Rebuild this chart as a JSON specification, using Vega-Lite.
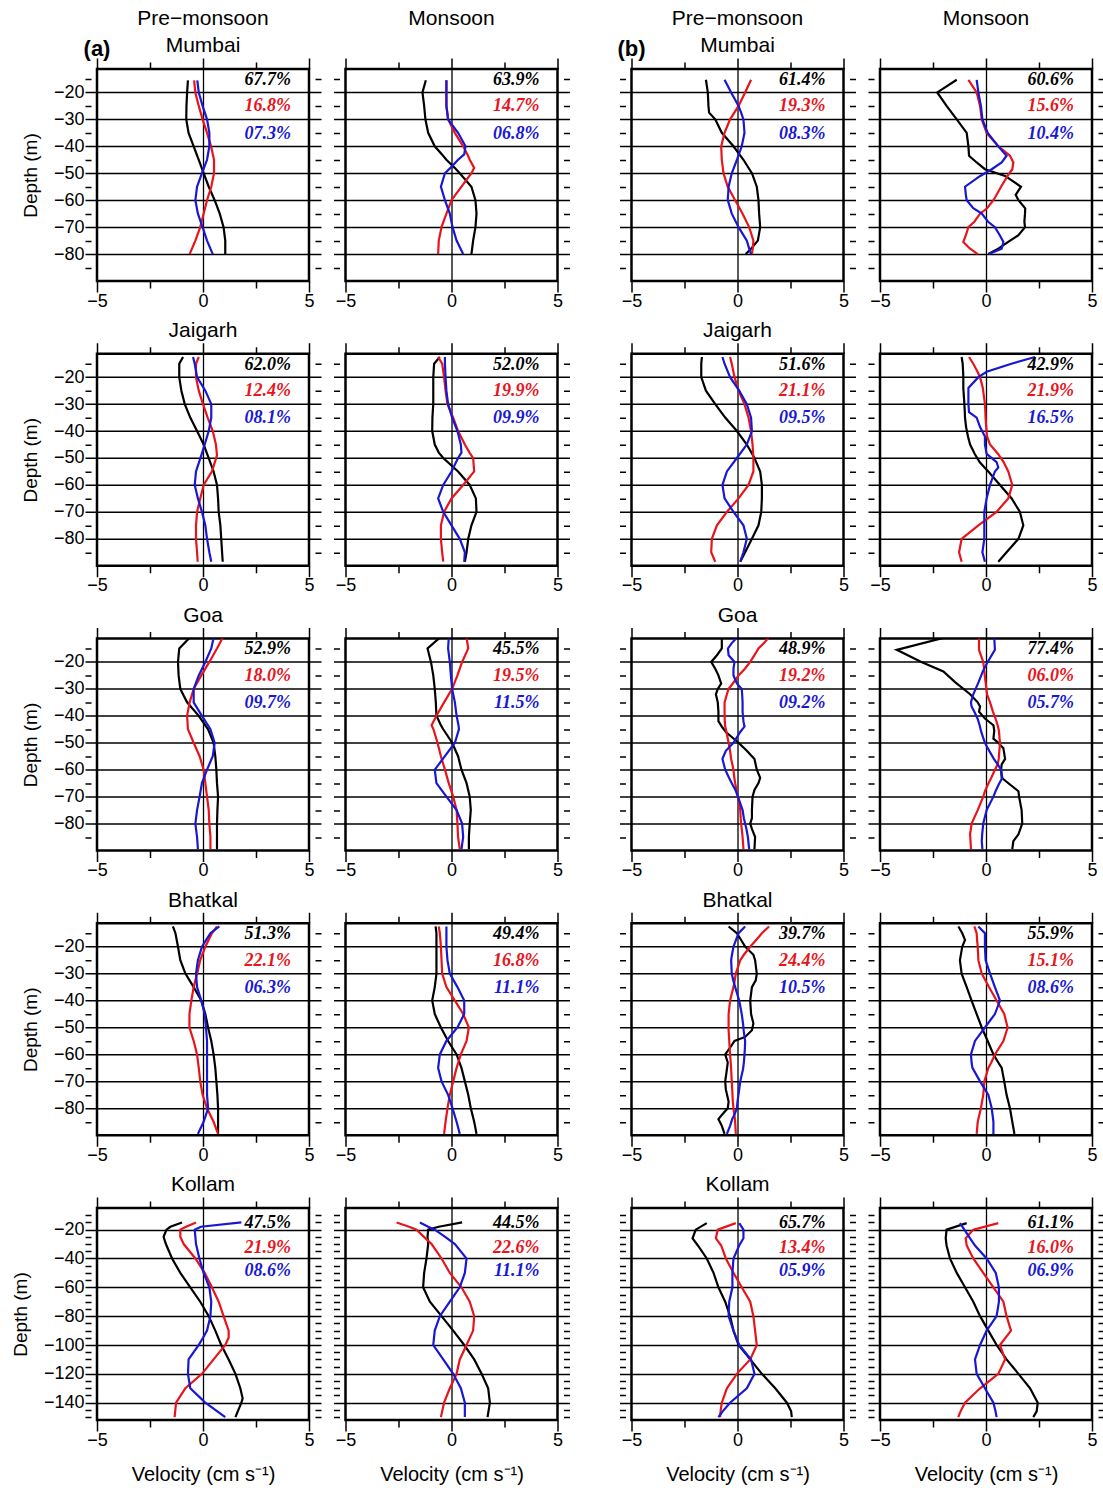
{
"$schema":"https://vega.github.io/schema/vega-lite/v6.json",
"padding":{"left":10,"top":6,"right":5,"bottom":5},
"config":{
"view":{"stroke":"#000","strokeWidth":2.5},
"range":{"category":["#000000","#e8141c","#1818d4"]},
"legend":{"disable":true},
"line":{"strokeWidth":2.2},
"text":{"align":"right","baseline":"middle","font":"Liberation Serif","fontSize":18,"fontStyle":"italic","fontWeight":"bold"},
"title":{"font":"Liberation Sans","fontSize":21,"fontWeight":"normal","color":"#000","frame":"group","offset":1},
"axis":{"domain":false,"grid":false,"tickColor":"#000","tickWidth":1.5,"tickSize":12,"gridColor":"#000","gridWidth":1.3,"labelFont":"Liberation Sans","labelFontSize":18,"labelColor":"#000","labelPadding":1,"labelOverlap":false,"titleFont":"Liberation Sans","titleFontSize":19,"titleFontWeight":"normal","titleColor":"#000","titlePadding":13},
"axisBottom":{"labelExpr":"datum.value%5==0?datum.label:''","labelFlush":false,"labelPadding":0,"titlePadding":15,"titleFontSize":20},
"axisTop":{"labels":false},
"axisLeft":{"labelExpr":"datum.value%10==0?datum.label:''"},
"axisRight":{"labels":false}
},
"datasets":{
"pct":[
{"p":11,"a":"67.7%","b":"16.8%","c":"07.3%"},{"p":12,"a":"63.9%","b":"14.7%","c":"06.8%"},{"p":13,"a":"61.4%","b":"19.3%","c":"08.3%"},{"p":14,"a":"60.6%","b":"15.6%","c":"10.4%"},
{"p":21,"a":"62.0%","b":"12.4%","c":"08.1%"},{"p":22,"a":"52.0%","b":"19.9%","c":"09.9%"},{"p":23,"a":"51.6%","b":"21.1%","c":"09.5%"},{"p":24,"a":"42.9%","b":"21.9%","c":"16.5%"},
{"p":31,"a":"52.9%","b":"18.0%","c":"09.7%"},{"p":32,"a":"45.5%","b":"19.5%","c":"11.5%"},{"p":33,"a":"48.9%","b":"19.2%","c":"09.2%"},{"p":34,"a":"77.4%","b":"06.0%","c":"05.7%"},
{"p":41,"a":"51.3%","b":"22.1%","c":"06.3%"},{"p":42,"a":"49.4%","b":"16.8%","c":"11.1%"},{"p":43,"a":"39.7%","b":"24.4%","c":"10.5%"},{"p":44,"a":"55.9%","b":"15.1%","c":"08.6%"},
{"p":51,"a":"47.5%","b":"21.9%","c":"08.6%"},{"p":52,"a":"44.5%","b":"22.6%","c":"11.1%"},{"p":53,"a":"65.7%","b":"13.4%","c":"05.9%"},{"p":54,"a":"61.1%","b":"16.0%","c":"06.9%"}
],
"prof":[
{"p":11,"d":-15.5,"a":-0.71,"b":-0.42,"c":-0.27},{"p":11,"d":-20,"a":-0.75,"b":-0.36,"c":-0.2},{"p":11,"d":-25,"a":-0.78,"b":-0.2,"c":-0.02},{"p":11,"d":-30,"a":-0.79,"b":-0.02,"c":0.19},{"p":11,"d":-35,"a":-0.68,"b":0.19,"c":0.3},{"p":11,"d":-40,"a":-0.44,"b":0.38,"c":0.3},{"p":11,"d":-45,"a":-0.2,"b":0.52,"c":0.19},{"p":11,"d":-50,"a":0.03,"b":0.52,"c":-0.05},{"p":11,"d":-55,"a":0.27,"b":0.39,"c":-0.28},{"p":11,"d":-60,"a":0.55,"b":0.19,"c":-0.36},{"p":11,"d":-65,"a":0.79,"b":0.03,"c":-0.24},{"p":11,"d":-70,"a":0.97,"b":-0.13,"c":-0.02},{"p":11,"d":-75,"a":1.05,"b":-0.36,"c":0.19},{"p":11,"d":-80,"a":1.05,"b":-0.63,"c":0.46},
{"p":12,"d":-15.5,"a":-1.21,"b":-0.24,"c":-0.24},{"p":12,"d":-20,"a":-1.37,"b":-0.24,"c":-0.24},{"p":12,"d":-25,"a":-1.29,"b":-0.24,"c":-0.24},{"p":12,"d":-30,"a":-1.23,"b":-0.16,"c":-0.16},{"p":12,"d":-35,"a":-1.1,"b":0.16,"c":0.31},{"p":12,"d":-40,"a":-0.79,"b":0.55,"c":0.66},{"p":12,"d":-43,"a":-0.45,"b":0.75,"c":0.6},{"p":12,"d":-45,"a":-0.24,"b":0.86,"c":0.31},{"p":12,"d":-48,"a":0.15,"b":1.07,"c":-0.05},{"p":12,"d":-50,"a":0.39,"b":0.94,"c":-0.31},{"p":12,"d":-55,"a":0.94,"b":0.47,"c":-0.5},{"p":12,"d":-60,"a":1.13,"b":0,"c":-0.31},{"p":12,"d":-65,"a":1.18,"b":-0.24,"c":-0.08},{"p":12,"d":-70,"a":1.13,"b":-0.47,"c":0.05},{"p":12,"d":-75,"a":1.02,"b":-0.6,"c":0.24},{"p":12,"d":-80,"a":0.94,"b":-0.63,"c":0.55},
{"p":13,"d":-15.3,"a":-1.49,"b":0.64,"c":-0.61},{"p":13,"d":-20,"a":-1.4,"b":0.36,"c":-0.3},{"p":13,"d":-25,"a":-1.37,"b":0.05,"c":0.05},{"p":13,"d":-27.5,"a":-1.34,"b":-0.15,"c":0.17},{"p":13,"d":-30,"a":-1.05,"b":-0.35,"c":0.28},{"p":13,"d":-35,"a":-0.74,"b":-0.61,"c":0.33},{"p":13,"d":-40,"a":-0.19,"b":-0.77,"c":0.2},{"p":13,"d":-45,"a":0.28,"b":-0.74,"c":-0.03},{"p":13,"d":-50,"a":0.68,"b":-0.66,"c":-0.27},{"p":13,"d":-55,"a":0.91,"b":-0.46,"c":-0.42},{"p":13,"d":-60,"a":0.99,"b":-0.11,"c":-0.46},{"p":13,"d":-65,"a":1.02,"b":0.24,"c":-0.27},{"p":13,"d":-70,"a":1.07,"b":0.55,"c":0.05},{"p":13,"d":-75,"a":0.96,"b":0.75,"c":0.44},{"p":13,"d":-78,"a":0.64,"b":0.72,"c":0.55},{"p":13,"d":-80,"a":0.39,"b":0.68,"c":0.64},
{"p":14,"d":-15.3,"a":-1.38,"b":-0.83,"c":-0.44},{"p":14,"d":-20,"a":-2.3,"b":-0.44,"c":-0.36},{"p":14,"d":-25,"a":-1.86,"b":-0.28,"c":-0.24},{"p":14,"d":-30,"a":-1.38,"b":-0.2,"c":-0.17},{"p":14,"d":-35,"a":-0.91,"b":0.03,"c":0.08},{"p":14,"d":-40,"a":-0.83,"b":0.58,"c":0.58},{"p":14,"d":-43.5,"a":-0.8,"b":1.13,"c":0.97},{"p":14,"d":-46,"a":-0.44,"b":1.29,"c":0.74},{"p":14,"d":-48.5,"a":-0.05,"b":1.24,"c":0.27},{"p":14,"d":-51,"a":0.9,"b":1.02,"c":-0.27},{"p":14,"d":-55,"a":1.65,"b":0.71,"c":-0.99},{"p":14,"d":-58,"a":1.4,"b":0.5,"c":-0.95},{"p":14,"d":-60,"a":1.53,"b":0.35,"c":-0.91},{"p":14,"d":-63,"a":1.85,"b":0.05,"c":-0.6},{"p":14,"d":-65,"a":1.84,"b":-0.28,"c":-0.2},{"p":14,"d":-68,"a":1.81,"b":-0.55,"c":0.1},{"p":14,"d":-70,"a":1.84,"b":-0.83,"c":0.42},{"p":14,"d":-73,"a":1.53,"b":-0.95,"c":0.65},{"p":14,"d":-75.5,"a":1.05,"b":-1.07,"c":0.82},{"p":14,"d":-78,"a":0.58,"b":-0.75,"c":0.74},{"p":14,"d":-80,"a":0.11,"b":-0.39,"c":0.14},
{"p":21,"d":-12.5,"a":-0.94,"b":-0.2,"c":-0.47},{"p":21,"d":-15,"a":-1.12,"b":-0.33,"c":-0.39},{"p":21,"d":-20,"a":-1.12,"b":-0.33,"c":-0.28},{"p":21,"d":-25,"a":-1.02,"b":-0.2,"c":0.11},{"p":21,"d":-30,"a":-0.86,"b":0,"c":0.39},{"p":21,"d":-35,"a":-0.6,"b":0.22,"c":0.39},{"p":21,"d":-40,"a":-0.28,"b":0.46,"c":0.27},{"p":21,"d":-45,"a":0.03,"b":0.61,"c":0.08},{"p":21,"d":-49,"a":0.22,"b":0.66,"c":-0.08},{"p":21,"d":-55,"a":0.5,"b":0.42,"c":-0.33},{"p":21,"d":-60,"a":0.66,"b":0.03,"c":-0.39},{"p":21,"d":-65,"a":0.71,"b":-0.13,"c":-0.24},{"p":21,"d":-70,"a":0.74,"b":-0.28,"c":-0.05},{"p":21,"d":-75,"a":0.82,"b":-0.33,"c":0.11},{"p":21,"d":-80,"a":0.86,"b":-0.33,"c":0.19},{"p":21,"d":-85,"a":0.9,"b":-0.28,"c":0.3},{"p":21,"d":-88.5,"a":0.93,"b":-0.25,"c":0.39},
{"p":22,"d":-12.5,"a":-0.55,"b":-0.63,"c":-0.31},{"p":22,"d":-15,"a":-0.82,"b":-0.44,"c":-0.31},{"p":22,"d":-20,"a":-0.86,"b":-0.35,"c":-0.28},{"p":22,"d":-25,"a":-0.86,"b":-0.28,"c":-0.24},{"p":22,"d":-30,"a":-0.86,"b":-0.19,"c":-0.16},{"p":22,"d":-35,"a":-0.9,"b":0.08,"c":0.03},{"p":22,"d":-40,"a":-0.91,"b":0.31,"c":0.28},{"p":22,"d":-45,"a":-0.79,"b":0.63,"c":0.44},{"p":22,"d":-48,"a":-0.6,"b":0.85,"c":0.47},{"p":22,"d":-50,"a":-0.39,"b":1.02,"c":0.31},{"p":22,"d":-55,"a":0.31,"b":1.07,"c":0},{"p":22,"d":-60,"a":0.86,"b":0.55,"c":-0.39},{"p":22,"d":-65,"a":1.15,"b":0,"c":-0.63},{"p":22,"d":-70,"a":1.18,"b":-0.35,"c":-0.39},{"p":22,"d":-75,"a":0.94,"b":-0.5,"c":0},{"p":22,"d":-80,"a":0.79,"b":-0.5,"c":0.39},{"p":22,"d":-85,"a":0.71,"b":-0.44,"c":0.63},{"p":22,"d":-88.5,"a":0.63,"b":-0.39,"c":0.6},
{"p":23,"d":-12.5,"a":-1.68,"b":-0.35,"c":-0.71},{"p":23,"d":-15,"a":-1.71,"b":-0.27,"c":-0.61},{"p":23,"d":-20,"a":-1.71,"b":-0.14,"c":-0.35},{"p":23,"d":-25,"a":-1.49,"b":0.05,"c":0.08},{"p":23,"d":-30,"a":-1.05,"b":0.33,"c":0.44},{"p":23,"d":-35,"a":-0.58,"b":0.52,"c":0.64},{"p":23,"d":-40,"a":-0.03,"b":0.64,"c":0.68},{"p":23,"d":-45,"a":0.44,"b":0.71,"c":0.44},{"p":23,"d":-50,"a":0.8,"b":0.75,"c":-0.03},{"p":23,"d":-55,"a":1.07,"b":0.75,"c":-0.5},{"p":23,"d":-60,"a":1.15,"b":0.52,"c":-0.71},{"p":23,"d":-65,"a":1.15,"b":0.05,"c":-0.61},{"p":23,"d":-70,"a":1.12,"b":-0.5,"c":-0.19},{"p":23,"d":-75,"a":0.99,"b":-0.97,"c":0.28},{"p":23,"d":-80,"a":0.68,"b":-1.21,"c":0.44},{"p":23,"d":-85,"a":0.36,"b":-1.24,"c":0.28},{"p":23,"d":-88.5,"a":0.13,"b":-1.05,"c":0.13},
{"p":24,"d":-12.5,"a":-1.15,"b":-0.8,"c":2.31},{"p":24,"d":-15,"a":-1.1,"b":-0.6,"c":1.2},{"p":24,"d":-18,"a":-1.08,"b":-0.4,"c":0.03},{"p":24,"d":-20,"a":-1.07,"b":-0.28,"c":-0.36},{"p":24,"d":-24,"a":-1.07,"b":-0.15,"c":-0.83},{"p":24,"d":-30,"a":-1.02,"b":-0.05,"c":-0.83},{"p":24,"d":-33,"a":-1,"b":-0.03,"c":-0.8},{"p":24,"d":-35,"a":-0.99,"b":-0.02,"c":-0.44},{"p":24,"d":-38.5,"a":-0.94,"b":0.01,"c":-0.28},{"p":24,"d":-42,"a":-0.85,"b":0.05,"c":-0.05},{"p":24,"d":-45,"a":-0.75,"b":0.19,"c":-0.05},{"p":24,"d":-48.5,"a":-0.53,"b":0.57,"c":0.03},{"p":24,"d":-51.5,"a":-0.3,"b":0.83,"c":0.5},{"p":24,"d":-53.5,"a":-0.07,"b":0.96,"c":0.58},{"p":24,"d":-55,"a":0.11,"b":1.05,"c":0.42},{"p":24,"d":-60,"a":0.66,"b":1.24,"c":0.19},{"p":24,"d":-65,"a":1.21,"b":1.05,"c":0.03},{"p":24,"d":-70,"a":1.6,"b":0.5,"c":-0.08},{"p":24,"d":-75,"a":1.76,"b":-0.36,"c":-0.08},{"p":24,"d":-80,"a":1.53,"b":-1.15,"c":-0.08},{"p":24,"d":-85,"a":0.97,"b":-1.27,"c":-0.17},{"p":24,"d":-88.5,"a":0.58,"b":-1.15,"c":-0.05},
{"p":31,"d":-11,"a":-0.63,"b":0.93,"c":0.5},{"p":31,"d":-15,"a":-1.12,"b":0.66,"c":0.39},{"p":31,"d":-20,"a":-1.18,"b":0.3,"c":0.11},{"p":31,"d":-25,"a":-1.15,"b":-0.08,"c":-0.2},{"p":31,"d":-30,"a":-1.07,"b":-0.44,"c":-0.44},{"p":31,"d":-35,"a":-0.75,"b":-0.63,"c":-0.44},{"p":31,"d":-40,"a":-0.2,"b":-0.75,"c":-0.05},{"p":31,"d":-45,"a":0.24,"b":-0.71,"c":0.35},{"p":31,"d":-50,"a":0.5,"b":-0.44,"c":0.55},{"p":31,"d":-55,"a":0.58,"b":-0.16,"c":0.46},{"p":31,"d":-60,"a":0.63,"b":0.03,"c":0.19},{"p":31,"d":-65,"a":0.66,"b":0.11,"c":-0.05},{"p":31,"d":-70,"a":0.71,"b":0.19,"c":-0.16},{"p":31,"d":-75,"a":0.68,"b":0.27,"c":-0.28},{"p":31,"d":-80,"a":0.66,"b":0.3,"c":-0.36},{"p":31,"d":-85,"a":0.66,"b":0.35,"c":-0.28},{"p":31,"d":-89.5,"a":0.66,"b":0.35,"c":-0.24},
{"p":32,"d":-11,"a":-0.55,"b":0.71,"c":-0.13},{"p":32,"d":-15,"a":-1.13,"b":0.79,"c":-0.16},{"p":32,"d":-20,"a":-0.97,"b":0.5,"c":-0.08},{"p":32,"d":-25,"a":-0.86,"b":0.28,"c":-0.03},{"p":32,"d":-30,"a":-0.79,"b":0.03,"c":0.03},{"p":32,"d":-35,"a":-0.74,"b":-0.35,"c":0.16},{"p":32,"d":-40,"a":-0.71,"b":-0.71,"c":0.24},{"p":32,"d":-43.5,"a":-0.5,"b":-0.94,"c":0.33},{"p":32,"d":-45,"a":-0.39,"b":-0.85,"c":0.35},{"p":32,"d":-50,"a":0.03,"b":-0.66,"c":0.16},{"p":32,"d":-55,"a":0.31,"b":-0.5,"c":-0.31},{"p":32,"d":-60,"a":0.47,"b":-0.31,"c":-0.79},{"p":32,"d":-65,"a":0.71,"b":-0.13,"c":-0.71},{"p":32,"d":-70,"a":0.86,"b":0.08,"c":-0.24},{"p":32,"d":-75,"a":0.91,"b":0.24,"c":0.24},{"p":32,"d":-80,"a":0.86,"b":0.28,"c":0.5},{"p":32,"d":-85,"a":0.82,"b":0.31,"c":0.55},{"p":32,"d":-89.5,"a":0.82,"b":0.39,"c":0.47},
{"p":33,"d":-11,"a":-0.74,"b":1.46,"c":-0.03},{"p":33,"d":-13,"a":-0.74,"b":1.25,"c":-0.27},{"p":33,"d":-15,"a":-0.74,"b":0.99,"c":-0.45},{"p":33,"d":-17.5,"a":-0.97,"b":0.8,"c":-0.42},{"p":33,"d":-20,"a":-1.24,"b":0.6,"c":-0.14},{"p":33,"d":-22.5,"a":-1.05,"b":0.35,"c":-0.19},{"p":33,"d":-25,"a":-0.9,"b":0.05,"c":-0.19},{"p":33,"d":-28,"a":-0.77,"b":-0.22,"c":-0.03},{"p":33,"d":-30,"a":-0.93,"b":-0.42,"c":0.2},{"p":33,"d":-32,"a":-1.02,"b":-0.5,"c":0.22},{"p":33,"d":-35,"a":-0.93,"b":-0.61,"c":0.24},{"p":33,"d":-38.5,"a":-0.9,"b":-0.61,"c":0.24},{"p":33,"d":-42,"a":-0.9,"b":-0.6,"c":0.28},{"p":33,"d":-44,"a":-0.74,"b":-0.58,"c":0.33},{"p":33,"d":-46,"a":-0.55,"b":-0.52,"c":0.13},{"p":33,"d":-50,"a":0.05,"b":-0.42,"c":-0.19},{"p":33,"d":-53,"a":0.44,"b":-0.35,"c":-0.55},{"p":33,"d":-56,"a":0.8,"b":-0.3,"c":-0.71},{"p":33,"d":-60,"a":0.91,"b":-0.19,"c":-0.58},{"p":33,"d":-63,"a":1.07,"b":-0.15,"c":-0.4},{"p":33,"d":-65,"a":0.99,"b":-0.11,"c":-0.27},{"p":33,"d":-67.5,"a":0.8,"b":-0.05,"c":-0.1},{"p":33,"d":-70,"a":0.71,"b":0.02,"c":0.02},{"p":33,"d":-75,"a":0.68,"b":0.13,"c":0.24},{"p":33,"d":-78,"a":0.68,"b":0.15,"c":0.3},{"p":33,"d":-80,"a":0.6,"b":0.17,"c":0.36},{"p":33,"d":-82,"a":0.68,"b":0.2,"c":0.42},{"p":33,"d":-85,"a":0.83,"b":0.24,"c":0.49},{"p":33,"d":-89.5,"a":0.8,"b":0.28,"c":0.55},
{"p":34,"d":-11,"a":-1.97,"b":-0.33,"c":0.39},{"p":34,"d":-15.5,"a":-4.21,"b":-0.33,"c":0.42},{"p":34,"d":-20,"a":-3.05,"b":-0.13,"c":0.08},{"p":34,"d":-23.5,"a":-2.01,"b":-0.08,"c":-0.15},{"p":34,"d":-27.5,"a":-1.46,"b":-0.02,"c":-0.35},{"p":34,"d":-32,"a":-0.75,"b":0.05,"c":-0.6},{"p":34,"d":-35,"a":-0.39,"b":0.19,"c":-0.71},{"p":34,"d":-36.5,"a":-0.28,"b":0.25,"c":-0.68},{"p":34,"d":-38.5,"a":-0.33,"b":0.33,"c":-0.55},{"p":34,"d":-41,"a":-0.05,"b":0.45,"c":-0.4},{"p":34,"d":-43.5,"a":0.35,"b":0.55,"c":-0.3},{"p":34,"d":-45.5,"a":0.39,"b":0.61,"c":-0.24},{"p":34,"d":-48.5,"a":0.35,"b":0.64,"c":-0.12},{"p":34,"d":-50,"a":0.58,"b":0.66,"c":-0.05},{"p":34,"d":-52,"a":0.82,"b":0.64,"c":0.08},{"p":34,"d":-56,"a":0.9,"b":0.6,"c":0.37},{"p":34,"d":-58,"a":0.74,"b":0.55,"c":0.55},{"p":34,"d":-60,"a":0.71,"b":0.42,"c":0.71},{"p":34,"d":-63,"a":0.74,"b":0.25,"c":0.77},{"p":34,"d":-65.5,"a":1.13,"b":0.09,"c":0.6},{"p":34,"d":-68,"a":1.53,"b":-0.05,"c":0.45},{"p":34,"d":-70,"a":1.56,"b":-0.13,"c":0.35},{"p":34,"d":-75,"a":1.68,"b":-0.39,"c":0.03},{"p":34,"d":-80,"a":1.71,"b":-0.68,"c":-0.13},{"p":34,"d":-84,"a":1.53,"b":-0.75,"c":-0.18},{"p":34,"d":-86.5,"a":1.29,"b":-0.73,"c":-0.2},{"p":34,"d":-89.5,"a":1.24,"b":-0.71,"c":-0.17},
{"p":41,"d":-12.5,"a":-1.42,"b":0.66,"c":0.77},{"p":41,"d":-15,"a":-1.3,"b":0.42,"c":0.35},{"p":41,"d":-20,"a":-1.18,"b":0.11,"c":-0.05},{"p":41,"d":-25,"a":-1.07,"b":-0.13,"c":-0.24},{"p":41,"d":-30,"a":-0.83,"b":-0.28,"c":-0.33},{"p":41,"d":-35,"a":-0.44,"b":-0.44,"c":-0.28},{"p":41,"d":-40,"a":-0.08,"b":-0.55,"c":-0.08},{"p":41,"d":-45,"a":0.11,"b":-0.64,"c":0.08},{"p":41,"d":-50,"a":0.24,"b":-0.64,"c":0.14},{"p":41,"d":-55,"a":0.39,"b":-0.44,"c":0.19},{"p":41,"d":-60,"a":0.5,"b":-0.28,"c":0.19},{"p":41,"d":-65,"a":0.58,"b":-0.2,"c":0.19},{"p":41,"d":-70,"a":0.63,"b":-0.13,"c":0.19},{"p":41,"d":-75,"a":0.68,"b":-0.02,"c":0.19},{"p":41,"d":-80,"a":0.71,"b":0.19,"c":0.24},{"p":41,"d":-85,"a":0.71,"b":0.5,"c":0.03},{"p":41,"d":-89.5,"a":0.71,"b":0.71,"c":-0.24},
{"p":42,"d":-12.5,"a":-0.75,"b":-0.6,"c":-0.24},{"p":42,"d":-15,"a":-0.71,"b":-0.55,"c":-0.24},{"p":42,"d":-20,"a":-0.71,"b":-0.5,"c":-0.24},{"p":42,"d":-25,"a":-0.71,"b":-0.47,"c":-0.19},{"p":42,"d":-30,"a":-0.71,"b":-0.44,"c":-0.08},{"p":42,"d":-35,"a":-0.79,"b":-0.24,"c":0.28},{"p":42,"d":-40,"a":-0.91,"b":0.16,"c":0.6},{"p":42,"d":-45,"a":-0.79,"b":0.55,"c":0.6},{"p":42,"d":-50,"a":-0.5,"b":0.82,"c":0.28},{"p":42,"d":-55,"a":-0.16,"b":0.71,"c":-0.24},{"p":42,"d":-60,"a":0.24,"b":0.44,"c":-0.55},{"p":42,"d":-65,"a":0.47,"b":0.24,"c":-0.63},{"p":42,"d":-70,"a":0.63,"b":0.08,"c":-0.47},{"p":42,"d":-75,"a":0.79,"b":-0.08,"c":-0.16},{"p":42,"d":-80,"a":0.91,"b":-0.19,"c":0.05},{"p":42,"d":-85,"a":1.07,"b":-0.28,"c":0.24},{"p":42,"d":-89.5,"a":1.18,"b":-0.35,"c":0.39},
{"p":43,"d":-12.5,"a":-0.42,"b":1.49,"c":0.36},{"p":43,"d":-15,"a":-0.03,"b":1.15,"c":0.05},{"p":43,"d":-17.5,"a":0.17,"b":0.88,"c":-0.07},{"p":43,"d":-20,"a":0.36,"b":0.6,"c":-0.19},{"p":43,"d":-23,"a":0.75,"b":0.3,"c":-0.26},{"p":43,"d":-25,"a":0.83,"b":0.13,"c":-0.3},{"p":43,"d":-30,"a":0.91,"b":-0.08,"c":-0.27},{"p":43,"d":-32.5,"a":0.86,"b":-0.13,"c":-0.2},{"p":43,"d":-35,"a":0.68,"b":-0.19,"c":-0.11},{"p":43,"d":-40,"a":0.6,"b":-0.35,"c":0.08},{"p":43,"d":-45,"a":0.64,"b":-0.42,"c":0.2},{"p":43,"d":-48.5,"a":0.75,"b":-0.42,"c":0.26},{"p":43,"d":-51,"a":0.68,"b":-0.42,"c":0.29},{"p":43,"d":-53.5,"a":0.36,"b":-0.4,"c":0.33},{"p":43,"d":-55,"a":-0.14,"b":-0.39,"c":0.36},{"p":43,"d":-57.5,"a":-0.35,"b":-0.37,"c":0.35},{"p":43,"d":-60,"a":-0.58,"b":-0.35,"c":0.33},{"p":43,"d":-63,"a":-0.46,"b":-0.32,"c":0.3},{"p":43,"d":-65.5,"a":-0.5,"b":-0.3,"c":0.26},{"p":43,"d":-70,"a":-0.58,"b":-0.27,"c":0.13},{"p":43,"d":-73,"a":-0.55,"b":-0.25,"c":0.08},{"p":43,"d":-77.5,"a":-0.42,"b":-0.22,"c":0},{"p":43,"d":-80,"a":-0.46,"b":-0.19,"c":-0.03},{"p":43,"d":-82.5,"a":-0.74,"b":-0.15,"c":-0.15},{"p":43,"d":-84,"a":-0.9,"b":-0.12,"c":-0.25},{"p":43,"d":-86.5,"a":-0.74,"b":-0.1,"c":-0.35},{"p":43,"d":-89.5,"a":-0.61,"b":-0.08,"c":-0.5},
{"p":44,"d":-12.5,"a":-1.3,"b":-0.55,"c":-0.36},{"p":44,"d":-15,"a":-1.12,"b":-0.44,"c":-0.05},{"p":44,"d":-17.5,"a":-0.99,"b":-0.42,"c":-0.05},{"p":44,"d":-20,"a":-1.12,"b":-0.39,"c":-0.05},{"p":44,"d":-25,"a":-1.23,"b":-0.36,"c":-0.02},{"p":44,"d":-30,"a":-1.15,"b":-0.2,"c":0.19},{"p":44,"d":-35,"a":-0.91,"b":0.14,"c":0.42},{"p":44,"d":-40,"a":-0.68,"b":0.5,"c":0.66},{"p":44,"d":-45,"a":-0.44,"b":0.86,"c":0.42},{"p":44,"d":-50,"a":-0.2,"b":1.02,"c":-0.05},{"p":44,"d":-55,"a":0.08,"b":0.82,"c":-0.52},{"p":44,"d":-60,"a":0.35,"b":0.42,"c":-0.71},{"p":44,"d":-63,"a":0.58,"b":0.25,"c":-0.68},{"p":44,"d":-65,"a":0.74,"b":0.11,"c":-0.64},{"p":44,"d":-70,"a":0.86,"b":-0.08,"c":-0.28},{"p":44,"d":-75,"a":0.97,"b":-0.13,"c":0.11},{"p":44,"d":-80,"a":1.13,"b":-0.24,"c":0.27},{"p":44,"d":-85,"a":1.24,"b":-0.39,"c":0.35},{"p":44,"d":-89.5,"a":1.34,"b":-0.44,"c":0.35},
{"p":51,"d":-15,"a":-0.99,"b":-0.33,"c":1.81},{"p":51,"d":-18,"a":-1.54,"b":-0.8,"c":-0.1},{"p":51,"d":-20,"a":-1.72,"b":-1.07,"c":-0.39},{"p":51,"d":-25,"a":-1.86,"b":-1.07,"c":-0.36},{"p":51,"d":-30,"a":-1.75,"b":-0.91,"c":-0.33},{"p":51,"d":-40,"a":-1.46,"b":-0.36,"c":-0.17},{"p":51,"d":-50,"a":-1.07,"b":0.08,"c":0.03},{"p":51,"d":-60,"a":-0.6,"b":0.42,"c":0.3},{"p":51,"d":-70,"a":-0.13,"b":0.74,"c":0.39},{"p":51,"d":-80,"a":0.27,"b":0.97,"c":0.35},{"p":51,"d":-90,"a":0.58,"b":1.21,"c":0.19},{"p":51,"d":-95,"a":0.72,"b":1.21,"c":0},{"p":51,"d":-100,"a":0.86,"b":1.05,"c":-0.2},{"p":51,"d":-110,"a":1.21,"b":0.5,"c":-0.68},{"p":51,"d":-120,"a":1.53,"b":-0.05,"c":-0.71},{"p":51,"d":-130,"a":1.76,"b":-0.83,"c":-0.6},{"p":51,"d":-137,"a":1.87,"b":-1.14,"c":-0.1},{"p":51,"d":-140,"a":1.81,"b":-1.27,"c":0.11},{"p":51,"d":-150,"a":1.53,"b":-1.34,"c":1.05},
{"p":52,"d":-15,"a":0.5,"b":-2.59,"c":-1.49},{"p":52,"d":-18,"a":-0.6,"b":-2.0,"c":-1.1},{"p":52,"d":-20,"a":-1.1,"b":-1.65,"c":-0.79},{"p":52,"d":-25,"a":-1.13,"b":-1.3,"c":-0.3},{"p":52,"d":-30,"a":-1.1,"b":-0.94,"c":0.16},{"p":52,"d":-40,"a":-1.18,"b":-0.47,"c":0.71},{"p":52,"d":-50,"a":-1.29,"b":-0.08,"c":0.63},{"p":52,"d":-60,"a":-1.34,"b":0.47,"c":0.39},{"p":52,"d":-70,"a":-1.02,"b":0.86,"c":-0.08},{"p":52,"d":-80,"a":-0.47,"b":1.07,"c":-0.55},{"p":52,"d":-90,"a":0.08,"b":1.02,"c":-0.79},{"p":52,"d":-100,"a":0.6,"b":0.71,"c":-0.86},{"p":52,"d":-110,"a":1.07,"b":0.39,"c":-0.39},{"p":52,"d":-120,"a":1.42,"b":0.24,"c":0.08},{"p":52,"d":-130,"a":1.73,"b":-0.08,"c":0.44},{"p":52,"d":-140,"a":1.81,"b":-0.35,"c":0.63},{"p":52,"d":-150,"a":1.7,"b":-0.5,"c":0.63},
{"p":53,"d":-15.5,"a":-1.45,"b":-0.08,"c":0.08},{"p":53,"d":-20,"a":-1.97,"b":-0.93,"c":0.28},{"p":53,"d":-26,"a":-2.12,"b":-1.02,"c":0.28},{"p":53,"d":-31,"a":-1.87,"b":-0.77,"c":0.08},{"p":53,"d":-40,"a":-1.45,"b":-0.55,"c":-0.19},{"p":53,"d":-50,"a":-1.13,"b":-0.19,"c":-0.24},{"p":53,"d":-60,"a":-0.9,"b":0.2,"c":-0.24},{"p":53,"d":-70,"a":-0.58,"b":0.6,"c":-0.39},{"p":53,"d":-80,"a":-0.35,"b":0.75,"c":-0.42},{"p":53,"d":-90,"a":-0.19,"b":0.83,"c":-0.19},{"p":53,"d":-100,"a":0.05,"b":0.91,"c":0.08},{"p":53,"d":-110,"a":0.6,"b":0.6,"c":0.64},{"p":53,"d":-120,"a":1.15,"b":-0.03,"c":0.8},{"p":53,"d":-130,"a":1.78,"b":-0.5,"c":0.44},{"p":53,"d":-140,"a":2.33,"b":-0.74,"c":-0.35},{"p":53,"d":-146,"a":2.53,"b":-0.8,"c":-0.7},{"p":53,"d":-150,"a":2.56,"b":-0.82,"c":-0.9},
{"p":54,"d":-15.5,"a":-0.91,"b":0.58,"c":-1.23},{"p":54,"d":-20,"a":-1.86,"b":-0.6,"c":-1.02},{"p":54,"d":-26,"a":-1.9,"b":-0.96,"c":-0.75},{"p":54,"d":-31,"a":-1.86,"b":-0.91,"c":-0.52},{"p":54,"d":-40,"a":-1.7,"b":-0.6,"c":0.03},{"p":54,"d":-50,"a":-1.38,"b":-0.13,"c":0.46},{"p":54,"d":-60,"a":-0.99,"b":0.35,"c":0.61},{"p":54,"d":-70,"a":-0.6,"b":0.82,"c":0.61},{"p":54,"d":-80,"a":-0.28,"b":0.97,"c":0.5},{"p":54,"d":-90,"a":0.11,"b":1.18,"c":0.03},{"p":54,"d":-100,"a":0.5,"b":0.66,"c":-0.28},{"p":54,"d":-110,"a":0.97,"b":0.9,"c":-0.52},{"p":54,"d":-120,"a":1.53,"b":0.58,"c":-0.44},{"p":54,"d":-130,"a":2.08,"b":-0.28,"c":-0.05},{"p":54,"d":-140,"a":2.44,"b":-0.99,"c":0.35},{"p":54,"d":-146,"a":2.39,"b":-1.2,"c":0.45},{"p":54,"d":-150,"a":2.23,"b":-1.31,"c":0.5}
]
},
"columns":5,
"spacing":{"row":72.75,"column":36.5},
"bounds":"flush",
"concat":[
  {"width":212,"height":212,"title":{"text":["Pre−monsoon","Mumbai"],"lineHeight":27,"offset":-18},"resolve":{"axis":{"x":"independent","y":"independent"}},"layer":[
   {"data":{"name":"prof"},"transform":[{"filter":"datum.p==11"},{"fold":["a","b","c"],"as":["s","v"]}],"mark":{"type":"line","clip":true},"encoding":{"x":{"field":"v","type":"quantitative","scale":{"domain":[-5,5],"nice":false},"axis":{"values":[-5,-2.5,0,2.5,5],"title":null,"grid":true,"gridOpacity":{"condition":{"test":"datum.value==0","value":1},"value":0},"tickSize":{"condition":{"test":"datum.value%5==0","value":11},"value":7}}},"y":{"field":"d","type":"quantitative","scale":{"domain":[-90,-11.3],"nice":false,"zero":false},"axis":{"values":[-15,-20,-25,-30,-35,-40,-45,-50,-55,-60,-65,-70,-75,-80,-85],"title":"Depth (m)","grid":true,"gridOpacity":{"condition":{"test":"datum.value%10==0","value":1},"value":0},"tickDash":{"condition":{"test":"datum.value%10==0","value":[20,0]},"value":[0,6,6,6]}}},"color":{"field":"s","type":"nominal"},"order":{"field":"d","type":"quantitative","sort":"descending"}}},
   {"data":{"name":"pct"},"transform":[{"filter":"datum.p==11"}],"mark":{"type":"text","fill":"#000000"},"encoding":{"x":{"datum":4.15,"axis":{"orient":"top","values":[-5,-2.5,0,2.5,5],"title":null,"tickSize":{"condition":{"test":"datum.value%5==0","value":11},"value":7}}},"y":{"datum":-15.3,"axis":{"orient":"right","values":[-15,-20,-25,-30,-35,-40,-45,-50,-55,-60,-65,-70,-75,-80,-85],"title":null,"tickDash":{"condition":{"test":"datum.value%10==0","value":[20,0]},"value":[0,6,6,6]}}},"text":{"field":"a"}}},
   {"data":{"name":"pct"},"transform":[{"filter":"datum.p==11"}],"mark":{"type":"text","fill":"#e8141c"},"encoding":{"x":{"datum":4.15,"axis":null},"y":{"datum":-25.2,"axis":null},"text":{"field":"b"}}},
   {"data":{"name":"pct"},"transform":[{"filter":"datum.p==11"}],"mark":{"type":"text","fill":"#1818d4"},"encoding":{"x":{"datum":4.15,"axis":null},"y":{"datum":-35.3,"axis":null},"text":{"field":"c"}}},
   {"data":{"name":"pct"},"transform":[{"filter":"datum.p==11"}],"mark":{"type":"text","align":"center","font":"Liberation Sans","fontStyle":"normal","fontSize":22,"fill":"#000000"},"encoding":{"x":{"datum":-5,"axis":null},"y":{"datum":-3.8,"axis":null},"text":{"value":"(a)"}}}
  ]},
  {"width":212,"height":212,"title":{"text":"Monsoon","offset":28},"resolve":{"axis":{"x":"independent","y":"independent"}},"layer":[
   {"data":{"name":"prof"},"transform":[{"filter":"datum.p==12"},{"fold":["a","b","c"],"as":["s","v"]}],"mark":{"type":"line","clip":true},"encoding":{"x":{"field":"v","type":"quantitative","scale":{"domain":[-5,5],"nice":false},"axis":{"values":[-5,-2.5,0,2.5,5],"title":null,"grid":true,"gridOpacity":{"condition":{"test":"datum.value==0","value":1},"value":0},"tickSize":{"condition":{"test":"datum.value%5==0","value":11},"value":7}}},"y":{"field":"d","type":"quantitative","scale":{"domain":[-90,-11.3],"nice":false,"zero":false},"axis":{"values":[-15,-20,-25,-30,-35,-40,-45,-50,-55,-60,-65,-70,-75,-80,-85],"labels":false,"title":null,"grid":true,"gridOpacity":{"condition":{"test":"datum.value%10==0","value":1},"value":0},"tickDash":{"condition":{"test":"datum.value%10==0","value":[20,0]},"value":[0,6,6,6]}}},"color":{"field":"s","type":"nominal"},"order":{"field":"d","type":"quantitative","sort":"descending"}}},
   {"data":{"name":"pct"},"transform":[{"filter":"datum.p==12"}],"mark":{"type":"text","fill":"#000000"},"encoding":{"x":{"datum":4.15,"axis":{"orient":"top","values":[-5,-2.5,0,2.5,5],"title":null,"tickSize":{"condition":{"test":"datum.value%5==0","value":11},"value":7}}},"y":{"datum":-15.3,"axis":{"orient":"right","values":[-15,-20,-25,-30,-35,-40,-45,-50,-55,-60,-65,-70,-75,-80,-85],"title":null,"tickDash":{"condition":{"test":"datum.value%10==0","value":[20,0]},"value":[0,6,6,6]}}},"text":{"field":"a"}}},
   {"data":{"name":"pct"},"transform":[{"filter":"datum.p==12"}],"mark":{"type":"text","fill":"#e8141c"},"encoding":{"x":{"datum":4.15,"axis":null},"y":{"datum":-25.2,"axis":null},"text":{"field":"b"}}},
   {"data":{"name":"pct"},"transform":[{"filter":"datum.p==12"}],"mark":{"type":"text","fill":"#1818d4"},"encoding":{"x":{"datum":4.15,"axis":null},"y":{"datum":-35.3,"axis":null},"text":{"field":"c"}}}
  ]},
  {"width":1,"height":212,"view":{"stroke":null},"data":{"name":"pct"},"transform":[{"filter":"datum.p==11"}],"mark":{"type":"text"},"encoding":{"text":{"value":""}}},
  {"width":212,"height":212,"title":{"text":["Pre−monsoon","Mumbai"],"lineHeight":27,"offset":-18},"resolve":{"axis":{"x":"independent","y":"independent"}},"layer":[
   {"data":{"name":"prof"},"transform":[{"filter":"datum.p==13"},{"fold":["a","b","c"],"as":["s","v"]}],"mark":{"type":"line","clip":true},"encoding":{"x":{"field":"v","type":"quantitative","scale":{"domain":[-5,5],"nice":false},"axis":{"values":[-5,-2.5,0,2.5,5],"title":null,"grid":true,"gridOpacity":{"condition":{"test":"datum.value==0","value":1},"value":0},"tickSize":{"condition":{"test":"datum.value%5==0","value":11},"value":7}}},"y":{"field":"d","type":"quantitative","scale":{"domain":[-90,-11.3],"nice":false,"zero":false},"axis":{"values":[-15,-20,-25,-30,-35,-40,-45,-50,-55,-60,-65,-70,-75,-80,-85],"labels":false,"title":null,"grid":true,"gridOpacity":{"condition":{"test":"datum.value%10==0","value":1},"value":0},"tickDash":{"condition":{"test":"datum.value%10==0","value":[20,0]},"value":[0,6,6,6]}}},"color":{"field":"s","type":"nominal"},"order":{"field":"d","type":"quantitative","sort":"descending"}}},
   {"data":{"name":"pct"},"transform":[{"filter":"datum.p==13"}],"mark":{"type":"text","fill":"#000000"},"encoding":{"x":{"datum":4.15,"axis":{"orient":"top","values":[-5,-2.5,0,2.5,5],"title":null,"tickSize":{"condition":{"test":"datum.value%5==0","value":11},"value":7}}},"y":{"datum":-15.3,"axis":{"orient":"right","values":[-15,-20,-25,-30,-35,-40,-45,-50,-55,-60,-65,-70,-75,-80,-85],"title":null,"tickDash":{"condition":{"test":"datum.value%10==0","value":[20,0]},"value":[0,6,6,6]}}},"text":{"field":"a"}}},
   {"data":{"name":"pct"},"transform":[{"filter":"datum.p==13"}],"mark":{"type":"text","fill":"#e8141c"},"encoding":{"x":{"datum":4.15,"axis":null},"y":{"datum":-25.2,"axis":null},"text":{"field":"b"}}},
   {"data":{"name":"pct"},"transform":[{"filter":"datum.p==13"}],"mark":{"type":"text","fill":"#1818d4"},"encoding":{"x":{"datum":4.15,"axis":null},"y":{"datum":-35.3,"axis":null},"text":{"field":"c"}}},
   {"data":{"name":"pct"},"transform":[{"filter":"datum.p==13"}],"mark":{"type":"text","align":"center","font":"Liberation Sans","fontStyle":"normal","fontSize":22,"fill":"#000000"},"encoding":{"x":{"datum":-5,"axis":null},"y":{"datum":-3.8,"axis":null},"text":{"value":"(b)"}}}
  ]},
  {"width":212,"height":212,"title":{"text":"Monsoon","offset":28},"resolve":{"axis":{"x":"independent","y":"independent"}},"layer":[
   {"data":{"name":"prof"},"transform":[{"filter":"datum.p==14"},{"fold":["a","b","c"],"as":["s","v"]}],"mark":{"type":"line","clip":true},"encoding":{"x":{"field":"v","type":"quantitative","scale":{"domain":[-5,5],"nice":false},"axis":{"values":[-5,-2.5,0,2.5,5],"title":null,"grid":true,"gridOpacity":{"condition":{"test":"datum.value==0","value":1},"value":0},"tickSize":{"condition":{"test":"datum.value%5==0","value":11},"value":7}}},"y":{"field":"d","type":"quantitative","scale":{"domain":[-90,-11.3],"nice":false,"zero":false},"axis":{"values":[-15,-20,-25,-30,-35,-40,-45,-50,-55,-60,-65,-70,-75,-80,-85],"labels":false,"title":null,"grid":true,"gridOpacity":{"condition":{"test":"datum.value%10==0","value":1},"value":0},"tickDash":{"condition":{"test":"datum.value%10==0","value":[20,0]},"value":[0,6,6,6]}}},"color":{"field":"s","type":"nominal"},"order":{"field":"d","type":"quantitative","sort":"descending"}}},
   {"data":{"name":"pct"},"transform":[{"filter":"datum.p==14"}],"mark":{"type":"text","fill":"#000000"},"encoding":{"x":{"datum":4.15,"axis":{"orient":"top","values":[-5,-2.5,0,2.5,5],"title":null,"tickSize":{"condition":{"test":"datum.value%5==0","value":11},"value":7}}},"y":{"datum":-15.3,"axis":{"orient":"right","values":[-15,-20,-25,-30,-35,-40,-45,-50,-55,-60,-65,-70,-75,-80,-85],"title":null,"tickDash":{"condition":{"test":"datum.value%10==0","value":[20,0]},"value":[0,6,6,6]}}},"text":{"field":"a"}}},
   {"data":{"name":"pct"},"transform":[{"filter":"datum.p==14"}],"mark":{"type":"text","fill":"#e8141c"},"encoding":{"x":{"datum":4.15,"axis":null},"y":{"datum":-25.2,"axis":null},"text":{"field":"b"}}},
   {"data":{"name":"pct"},"transform":[{"filter":"datum.p==14"}],"mark":{"type":"text","fill":"#1818d4"},"encoding":{"x":{"datum":4.15,"axis":null},"y":{"datum":-35.3,"axis":null},"text":{"field":"c"}}}
  ]},
  {"width":212,"height":212,"title":"Jaigarh","resolve":{"axis":{"x":"independent","y":"independent"}},"layer":[
   {"data":{"name":"prof"},"transform":[{"filter":"datum.p==21"},{"fold":["a","b","c"],"as":["s","v"]}],"mark":{"type":"line","clip":true},"encoding":{"x":{"field":"v","type":"quantitative","scale":{"domain":[-5,5],"nice":false},"axis":{"values":[-5,-2.5,0,2.5,5],"title":null,"grid":true,"gridOpacity":{"condition":{"test":"datum.value==0","value":1},"value":0},"tickSize":{"condition":{"test":"datum.value%5==0","value":11},"value":7}}},"y":{"field":"d","type":"quantitative","scale":{"domain":[-90,-11.3],"nice":false,"zero":false},"axis":{"values":[-15,-20,-25,-30,-35,-40,-45,-50,-55,-60,-65,-70,-75,-80,-85],"title":"Depth (m)","grid":true,"gridOpacity":{"condition":{"test":"datum.value%10==0","value":1},"value":0},"tickDash":{"condition":{"test":"datum.value%10==0","value":[20,0]},"value":[0,6,6,6]}}},"color":{"field":"s","type":"nominal"},"order":{"field":"d","type":"quantitative","sort":"descending"}}},
   {"data":{"name":"pct"},"transform":[{"filter":"datum.p==21"}],"mark":{"type":"text","fill":"#000000"},"encoding":{"x":{"datum":4.15,"axis":{"orient":"top","values":[-5,-2.5,0,2.5,5],"title":null,"tickSize":{"condition":{"test":"datum.value%5==0","value":11},"value":7}}},"y":{"datum":-15.3,"axis":{"orient":"right","values":[-15,-20,-25,-30,-35,-40,-45,-50,-55,-60,-65,-70,-75,-80,-85],"title":null,"tickDash":{"condition":{"test":"datum.value%10==0","value":[20,0]},"value":[0,6,6,6]}}},"text":{"field":"a"}}},
   {"data":{"name":"pct"},"transform":[{"filter":"datum.p==21"}],"mark":{"type":"text","fill":"#e8141c"},"encoding":{"x":{"datum":4.15,"axis":null},"y":{"datum":-25.2,"axis":null},"text":{"field":"b"}}},
   {"data":{"name":"pct"},"transform":[{"filter":"datum.p==21"}],"mark":{"type":"text","fill":"#1818d4"},"encoding":{"x":{"datum":4.15,"axis":null},"y":{"datum":-35.3,"axis":null},"text":{"field":"c"}}}
  ]},
  {"width":212,"height":212,"resolve":{"axis":{"x":"independent","y":"independent"}},"layer":[
   {"data":{"name":"prof"},"transform":[{"filter":"datum.p==22"},{"fold":["a","b","c"],"as":["s","v"]}],"mark":{"type":"line","clip":true},"encoding":{"x":{"field":"v","type":"quantitative","scale":{"domain":[-5,5],"nice":false},"axis":{"values":[-5,-2.5,0,2.5,5],"title":null,"grid":true,"gridOpacity":{"condition":{"test":"datum.value==0","value":1},"value":0},"tickSize":{"condition":{"test":"datum.value%5==0","value":11},"value":7}}},"y":{"field":"d","type":"quantitative","scale":{"domain":[-90,-11.3],"nice":false,"zero":false},"axis":{"values":[-15,-20,-25,-30,-35,-40,-45,-50,-55,-60,-65,-70,-75,-80,-85],"labels":false,"title":null,"grid":true,"gridOpacity":{"condition":{"test":"datum.value%10==0","value":1},"value":0},"tickDash":{"condition":{"test":"datum.value%10==0","value":[20,0]},"value":[0,6,6,6]}}},"color":{"field":"s","type":"nominal"},"order":{"field":"d","type":"quantitative","sort":"descending"}}},
   {"data":{"name":"pct"},"transform":[{"filter":"datum.p==22"}],"mark":{"type":"text","fill":"#000000"},"encoding":{"x":{"datum":4.15,"axis":{"orient":"top","values":[-5,-2.5,0,2.5,5],"title":null,"tickSize":{"condition":{"test":"datum.value%5==0","value":11},"value":7}}},"y":{"datum":-15.3,"axis":{"orient":"right","values":[-15,-20,-25,-30,-35,-40,-45,-50,-55,-60,-65,-70,-75,-80,-85],"title":null,"tickDash":{"condition":{"test":"datum.value%10==0","value":[20,0]},"value":[0,6,6,6]}}},"text":{"field":"a"}}},
   {"data":{"name":"pct"},"transform":[{"filter":"datum.p==22"}],"mark":{"type":"text","fill":"#e8141c"},"encoding":{"x":{"datum":4.15,"axis":null},"y":{"datum":-25.2,"axis":null},"text":{"field":"b"}}},
   {"data":{"name":"pct"},"transform":[{"filter":"datum.p==22"}],"mark":{"type":"text","fill":"#1818d4"},"encoding":{"x":{"datum":4.15,"axis":null},"y":{"datum":-35.3,"axis":null},"text":{"field":"c"}}}
  ]},
  {"width":1,"height":212,"view":{"stroke":null},"data":{"name":"pct"},"transform":[{"filter":"datum.p==11"}],"mark":{"type":"text"},"encoding":{"text":{"value":""}}},
  {"width":212,"height":212,"title":"Jaigarh","resolve":{"axis":{"x":"independent","y":"independent"}},"layer":[
   {"data":{"name":"prof"},"transform":[{"filter":"datum.p==23"},{"fold":["a","b","c"],"as":["s","v"]}],"mark":{"type":"line","clip":true},"encoding":{"x":{"field":"v","type":"quantitative","scale":{"domain":[-5,5],"nice":false},"axis":{"values":[-5,-2.5,0,2.5,5],"title":null,"grid":true,"gridOpacity":{"condition":{"test":"datum.value==0","value":1},"value":0},"tickSize":{"condition":{"test":"datum.value%5==0","value":11},"value":7}}},"y":{"field":"d","type":"quantitative","scale":{"domain":[-90,-11.3],"nice":false,"zero":false},"axis":{"values":[-15,-20,-25,-30,-35,-40,-45,-50,-55,-60,-65,-70,-75,-80,-85],"labels":false,"title":null,"grid":true,"gridOpacity":{"condition":{"test":"datum.value%10==0","value":1},"value":0},"tickDash":{"condition":{"test":"datum.value%10==0","value":[20,0]},"value":[0,6,6,6]}}},"color":{"field":"s","type":"nominal"},"order":{"field":"d","type":"quantitative","sort":"descending"}}},
   {"data":{"name":"pct"},"transform":[{"filter":"datum.p==23"}],"mark":{"type":"text","fill":"#000000"},"encoding":{"x":{"datum":4.15,"axis":{"orient":"top","values":[-5,-2.5,0,2.5,5],"title":null,"tickSize":{"condition":{"test":"datum.value%5==0","value":11},"value":7}}},"y":{"datum":-15.3,"axis":{"orient":"right","values":[-15,-20,-25,-30,-35,-40,-45,-50,-55,-60,-65,-70,-75,-80,-85],"title":null,"tickDash":{"condition":{"test":"datum.value%10==0","value":[20,0]},"value":[0,6,6,6]}}},"text":{"field":"a"}}},
   {"data":{"name":"pct"},"transform":[{"filter":"datum.p==23"}],"mark":{"type":"text","fill":"#e8141c"},"encoding":{"x":{"datum":4.15,"axis":null},"y":{"datum":-25.2,"axis":null},"text":{"field":"b"}}},
   {"data":{"name":"pct"},"transform":[{"filter":"datum.p==23"}],"mark":{"type":"text","fill":"#1818d4"},"encoding":{"x":{"datum":4.15,"axis":null},"y":{"datum":-35.3,"axis":null},"text":{"field":"c"}}}
  ]},
  {"width":212,"height":212,"resolve":{"axis":{"x":"independent","y":"independent"}},"layer":[
   {"data":{"name":"prof"},"transform":[{"filter":"datum.p==24"},{"fold":["a","b","c"],"as":["s","v"]}],"mark":{"type":"line","clip":true},"encoding":{"x":{"field":"v","type":"quantitative","scale":{"domain":[-5,5],"nice":false},"axis":{"values":[-5,-2.5,0,2.5,5],"title":null,"grid":true,"gridOpacity":{"condition":{"test":"datum.value==0","value":1},"value":0},"tickSize":{"condition":{"test":"datum.value%5==0","value":11},"value":7}}},"y":{"field":"d","type":"quantitative","scale":{"domain":[-90,-11.3],"nice":false,"zero":false},"axis":{"values":[-15,-20,-25,-30,-35,-40,-45,-50,-55,-60,-65,-70,-75,-80,-85],"labels":false,"title":null,"grid":true,"gridOpacity":{"condition":{"test":"datum.value%10==0","value":1},"value":0},"tickDash":{"condition":{"test":"datum.value%10==0","value":[20,0]},"value":[0,6,6,6]}}},"color":{"field":"s","type":"nominal"},"order":{"field":"d","type":"quantitative","sort":"descending"}}},
   {"data":{"name":"pct"},"transform":[{"filter":"datum.p==24"}],"mark":{"type":"text","fill":"#000000"},"encoding":{"x":{"datum":4.15,"axis":{"orient":"top","values":[-5,-2.5,0,2.5,5],"title":null,"tickSize":{"condition":{"test":"datum.value%5==0","value":11},"value":7}}},"y":{"datum":-15.3,"axis":{"orient":"right","values":[-15,-20,-25,-30,-35,-40,-45,-50,-55,-60,-65,-70,-75,-80,-85],"title":null,"tickDash":{"condition":{"test":"datum.value%10==0","value":[20,0]},"value":[0,6,6,6]}}},"text":{"field":"a"}}},
   {"data":{"name":"pct"},"transform":[{"filter":"datum.p==24"}],"mark":{"type":"text","fill":"#e8141c"},"encoding":{"x":{"datum":4.15,"axis":null},"y":{"datum":-25.2,"axis":null},"text":{"field":"b"}}},
   {"data":{"name":"pct"},"transform":[{"filter":"datum.p==24"}],"mark":{"type":"text","fill":"#1818d4"},"encoding":{"x":{"datum":4.15,"axis":null},"y":{"datum":-35.3,"axis":null},"text":{"field":"c"}}}
  ]},
  {"width":212,"height":212,"title":"Goa","resolve":{"axis":{"x":"independent","y":"independent"}},"layer":[
   {"data":{"name":"prof"},"transform":[{"filter":"datum.p==31"},{"fold":["a","b","c"],"as":["s","v"]}],"mark":{"type":"line","clip":true},"encoding":{"x":{"field":"v","type":"quantitative","scale":{"domain":[-5,5],"nice":false},"axis":{"values":[-5,-2.5,0,2.5,5],"title":null,"grid":true,"gridOpacity":{"condition":{"test":"datum.value==0","value":1},"value":0},"tickSize":{"condition":{"test":"datum.value%5==0","value":11},"value":7}}},"y":{"field":"d","type":"quantitative","scale":{"domain":[-90,-11.3],"nice":false,"zero":false},"axis":{"values":[-15,-20,-25,-30,-35,-40,-45,-50,-55,-60,-65,-70,-75,-80,-85],"title":"Depth (m)","grid":true,"gridOpacity":{"condition":{"test":"datum.value%10==0","value":1},"value":0},"tickDash":{"condition":{"test":"datum.value%10==0","value":[20,0]},"value":[0,6,6,6]}}},"color":{"field":"s","type":"nominal"},"order":{"field":"d","type":"quantitative","sort":"descending"}}},
   {"data":{"name":"pct"},"transform":[{"filter":"datum.p==31"}],"mark":{"type":"text","fill":"#000000"},"encoding":{"x":{"datum":4.15,"axis":{"orient":"top","values":[-5,-2.5,0,2.5,5],"title":null,"tickSize":{"condition":{"test":"datum.value%5==0","value":11},"value":7}}},"y":{"datum":-15.3,"axis":{"orient":"right","values":[-15,-20,-25,-30,-35,-40,-45,-50,-55,-60,-65,-70,-75,-80,-85],"title":null,"tickDash":{"condition":{"test":"datum.value%10==0","value":[20,0]},"value":[0,6,6,6]}}},"text":{"field":"a"}}},
   {"data":{"name":"pct"},"transform":[{"filter":"datum.p==31"}],"mark":{"type":"text","fill":"#e8141c"},"encoding":{"x":{"datum":4.15,"axis":null},"y":{"datum":-25.2,"axis":null},"text":{"field":"b"}}},
   {"data":{"name":"pct"},"transform":[{"filter":"datum.p==31"}],"mark":{"type":"text","fill":"#1818d4"},"encoding":{"x":{"datum":4.15,"axis":null},"y":{"datum":-35.3,"axis":null},"text":{"field":"c"}}}
  ]},
  {"width":212,"height":212,"resolve":{"axis":{"x":"independent","y":"independent"}},"layer":[
   {"data":{"name":"prof"},"transform":[{"filter":"datum.p==32"},{"fold":["a","b","c"],"as":["s","v"]}],"mark":{"type":"line","clip":true},"encoding":{"x":{"field":"v","type":"quantitative","scale":{"domain":[-5,5],"nice":false},"axis":{"values":[-5,-2.5,0,2.5,5],"title":null,"grid":true,"gridOpacity":{"condition":{"test":"datum.value==0","value":1},"value":0},"tickSize":{"condition":{"test":"datum.value%5==0","value":11},"value":7}}},"y":{"field":"d","type":"quantitative","scale":{"domain":[-90,-11.3],"nice":false,"zero":false},"axis":{"values":[-15,-20,-25,-30,-35,-40,-45,-50,-55,-60,-65,-70,-75,-80,-85],"labels":false,"title":null,"grid":true,"gridOpacity":{"condition":{"test":"datum.value%10==0","value":1},"value":0},"tickDash":{"condition":{"test":"datum.value%10==0","value":[20,0]},"value":[0,6,6,6]}}},"color":{"field":"s","type":"nominal"},"order":{"field":"d","type":"quantitative","sort":"descending"}}},
   {"data":{"name":"pct"},"transform":[{"filter":"datum.p==32"}],"mark":{"type":"text","fill":"#000000"},"encoding":{"x":{"datum":4.15,"axis":{"orient":"top","values":[-5,-2.5,0,2.5,5],"title":null,"tickSize":{"condition":{"test":"datum.value%5==0","value":11},"value":7}}},"y":{"datum":-15.3,"axis":{"orient":"right","values":[-15,-20,-25,-30,-35,-40,-45,-50,-55,-60,-65,-70,-75,-80,-85],"title":null,"tickDash":{"condition":{"test":"datum.value%10==0","value":[20,0]},"value":[0,6,6,6]}}},"text":{"field":"a"}}},
   {"data":{"name":"pct"},"transform":[{"filter":"datum.p==32"}],"mark":{"type":"text","fill":"#e8141c"},"encoding":{"x":{"datum":4.15,"axis":null},"y":{"datum":-25.2,"axis":null},"text":{"field":"b"}}},
   {"data":{"name":"pct"},"transform":[{"filter":"datum.p==32"}],"mark":{"type":"text","fill":"#1818d4"},"encoding":{"x":{"datum":4.15,"axis":null},"y":{"datum":-35.3,"axis":null},"text":{"field":"c"}}}
  ]},
  {"width":1,"height":212,"view":{"stroke":null},"data":{"name":"pct"},"transform":[{"filter":"datum.p==11"}],"mark":{"type":"text"},"encoding":{"text":{"value":""}}},
  {"width":212,"height":212,"title":"Goa","resolve":{"axis":{"x":"independent","y":"independent"}},"layer":[
   {"data":{"name":"prof"},"transform":[{"filter":"datum.p==33"},{"fold":["a","b","c"],"as":["s","v"]}],"mark":{"type":"line","clip":true},"encoding":{"x":{"field":"v","type":"quantitative","scale":{"domain":[-5,5],"nice":false},"axis":{"values":[-5,-2.5,0,2.5,5],"title":null,"grid":true,"gridOpacity":{"condition":{"test":"datum.value==0","value":1},"value":0},"tickSize":{"condition":{"test":"datum.value%5==0","value":11},"value":7}}},"y":{"field":"d","type":"quantitative","scale":{"domain":[-90,-11.3],"nice":false,"zero":false},"axis":{"values":[-15,-20,-25,-30,-35,-40,-45,-50,-55,-60,-65,-70,-75,-80,-85],"labels":false,"title":null,"grid":true,"gridOpacity":{"condition":{"test":"datum.value%10==0","value":1},"value":0},"tickDash":{"condition":{"test":"datum.value%10==0","value":[20,0]},"value":[0,6,6,6]}}},"color":{"field":"s","type":"nominal"},"order":{"field":"d","type":"quantitative","sort":"descending"}}},
   {"data":{"name":"pct"},"transform":[{"filter":"datum.p==33"}],"mark":{"type":"text","fill":"#000000"},"encoding":{"x":{"datum":4.15,"axis":{"orient":"top","values":[-5,-2.5,0,2.5,5],"title":null,"tickSize":{"condition":{"test":"datum.value%5==0","value":11},"value":7}}},"y":{"datum":-15.3,"axis":{"orient":"right","values":[-15,-20,-25,-30,-35,-40,-45,-50,-55,-60,-65,-70,-75,-80,-85],"title":null,"tickDash":{"condition":{"test":"datum.value%10==0","value":[20,0]},"value":[0,6,6,6]}}},"text":{"field":"a"}}},
   {"data":{"name":"pct"},"transform":[{"filter":"datum.p==33"}],"mark":{"type":"text","fill":"#e8141c"},"encoding":{"x":{"datum":4.15,"axis":null},"y":{"datum":-25.2,"axis":null},"text":{"field":"b"}}},
   {"data":{"name":"pct"},"transform":[{"filter":"datum.p==33"}],"mark":{"type":"text","fill":"#1818d4"},"encoding":{"x":{"datum":4.15,"axis":null},"y":{"datum":-35.3,"axis":null},"text":{"field":"c"}}}
  ]},
  {"width":212,"height":212,"resolve":{"axis":{"x":"independent","y":"independent"}},"layer":[
   {"data":{"name":"prof"},"transform":[{"filter":"datum.p==34"},{"fold":["a","b","c"],"as":["s","v"]}],"mark":{"type":"line","clip":true},"encoding":{"x":{"field":"v","type":"quantitative","scale":{"domain":[-5,5],"nice":false},"axis":{"values":[-5,-2.5,0,2.5,5],"title":null,"grid":true,"gridOpacity":{"condition":{"test":"datum.value==0","value":1},"value":0},"tickSize":{"condition":{"test":"datum.value%5==0","value":11},"value":7}}},"y":{"field":"d","type":"quantitative","scale":{"domain":[-90,-11.3],"nice":false,"zero":false},"axis":{"values":[-15,-20,-25,-30,-35,-40,-45,-50,-55,-60,-65,-70,-75,-80,-85],"labels":false,"title":null,"grid":true,"gridOpacity":{"condition":{"test":"datum.value%10==0","value":1},"value":0},"tickDash":{"condition":{"test":"datum.value%10==0","value":[20,0]},"value":[0,6,6,6]}}},"color":{"field":"s","type":"nominal"},"order":{"field":"d","type":"quantitative","sort":"descending"}}},
   {"data":{"name":"pct"},"transform":[{"filter":"datum.p==34"}],"mark":{"type":"text","fill":"#000000"},"encoding":{"x":{"datum":4.15,"axis":{"orient":"top","values":[-5,-2.5,0,2.5,5],"title":null,"tickSize":{"condition":{"test":"datum.value%5==0","value":11},"value":7}}},"y":{"datum":-15.3,"axis":{"orient":"right","values":[-15,-20,-25,-30,-35,-40,-45,-50,-55,-60,-65,-70,-75,-80,-85],"title":null,"tickDash":{"condition":{"test":"datum.value%10==0","value":[20,0]},"value":[0,6,6,6]}}},"text":{"field":"a"}}},
   {"data":{"name":"pct"},"transform":[{"filter":"datum.p==34"}],"mark":{"type":"text","fill":"#e8141c"},"encoding":{"x":{"datum":4.15,"axis":null},"y":{"datum":-25.2,"axis":null},"text":{"field":"b"}}},
   {"data":{"name":"pct"},"transform":[{"filter":"datum.p==34"}],"mark":{"type":"text","fill":"#1818d4"},"encoding":{"x":{"datum":4.15,"axis":null},"y":{"datum":-35.3,"axis":null},"text":{"field":"c"}}}
  ]},
  {"width":212,"height":212,"title":"Bhatkal","resolve":{"axis":{"x":"independent","y":"independent"}},"layer":[
   {"data":{"name":"prof"},"transform":[{"filter":"datum.p==41"},{"fold":["a","b","c"],"as":["s","v"]}],"mark":{"type":"line","clip":true},"encoding":{"x":{"field":"v","type":"quantitative","scale":{"domain":[-5,5],"nice":false},"axis":{"values":[-5,-2.5,0,2.5,5],"title":null,"grid":true,"gridOpacity":{"condition":{"test":"datum.value==0","value":1},"value":0},"tickSize":{"condition":{"test":"datum.value%5==0","value":11},"value":7}}},"y":{"field":"d","type":"quantitative","scale":{"domain":[-90,-11.3],"nice":false,"zero":false},"axis":{"values":[-15,-20,-25,-30,-35,-40,-45,-50,-55,-60,-65,-70,-75,-80,-85],"title":"Depth (m)","grid":true,"gridOpacity":{"condition":{"test":"datum.value%10==0","value":1},"value":0},"tickDash":{"condition":{"test":"datum.value%10==0","value":[20,0]},"value":[0,6,6,6]}}},"color":{"field":"s","type":"nominal"},"order":{"field":"d","type":"quantitative","sort":"descending"}}},
   {"data":{"name":"pct"},"transform":[{"filter":"datum.p==41"}],"mark":{"type":"text","fill":"#000000"},"encoding":{"x":{"datum":4.15,"axis":{"orient":"top","values":[-5,-2.5,0,2.5,5],"title":null,"tickSize":{"condition":{"test":"datum.value%5==0","value":11},"value":7}}},"y":{"datum":-15.3,"axis":{"orient":"right","values":[-15,-20,-25,-30,-35,-40,-45,-50,-55,-60,-65,-70,-75,-80,-85],"title":null,"tickDash":{"condition":{"test":"datum.value%10==0","value":[20,0]},"value":[0,6,6,6]}}},"text":{"field":"a"}}},
   {"data":{"name":"pct"},"transform":[{"filter":"datum.p==41"}],"mark":{"type":"text","fill":"#e8141c"},"encoding":{"x":{"datum":4.15,"axis":null},"y":{"datum":-25.2,"axis":null},"text":{"field":"b"}}},
   {"data":{"name":"pct"},"transform":[{"filter":"datum.p==41"}],"mark":{"type":"text","fill":"#1818d4"},"encoding":{"x":{"datum":4.15,"axis":null},"y":{"datum":-35.3,"axis":null},"text":{"field":"c"}}}
  ]},
  {"width":212,"height":212,"resolve":{"axis":{"x":"independent","y":"independent"}},"layer":[
   {"data":{"name":"prof"},"transform":[{"filter":"datum.p==42"},{"fold":["a","b","c"],"as":["s","v"]}],"mark":{"type":"line","clip":true},"encoding":{"x":{"field":"v","type":"quantitative","scale":{"domain":[-5,5],"nice":false},"axis":{"values":[-5,-2.5,0,2.5,5],"title":null,"grid":true,"gridOpacity":{"condition":{"test":"datum.value==0","value":1},"value":0},"tickSize":{"condition":{"test":"datum.value%5==0","value":11},"value":7}}},"y":{"field":"d","type":"quantitative","scale":{"domain":[-90,-11.3],"nice":false,"zero":false},"axis":{"values":[-15,-20,-25,-30,-35,-40,-45,-50,-55,-60,-65,-70,-75,-80,-85],"labels":false,"title":null,"grid":true,"gridOpacity":{"condition":{"test":"datum.value%10==0","value":1},"value":0},"tickDash":{"condition":{"test":"datum.value%10==0","value":[20,0]},"value":[0,6,6,6]}}},"color":{"field":"s","type":"nominal"},"order":{"field":"d","type":"quantitative","sort":"descending"}}},
   {"data":{"name":"pct"},"transform":[{"filter":"datum.p==42"}],"mark":{"type":"text","fill":"#000000"},"encoding":{"x":{"datum":4.15,"axis":{"orient":"top","values":[-5,-2.5,0,2.5,5],"title":null,"tickSize":{"condition":{"test":"datum.value%5==0","value":11},"value":7}}},"y":{"datum":-15.3,"axis":{"orient":"right","values":[-15,-20,-25,-30,-35,-40,-45,-50,-55,-60,-65,-70,-75,-80,-85],"title":null,"tickDash":{"condition":{"test":"datum.value%10==0","value":[20,0]},"value":[0,6,6,6]}}},"text":{"field":"a"}}},
   {"data":{"name":"pct"},"transform":[{"filter":"datum.p==42"}],"mark":{"type":"text","fill":"#e8141c"},"encoding":{"x":{"datum":4.15,"axis":null},"y":{"datum":-25.2,"axis":null},"text":{"field":"b"}}},
   {"data":{"name":"pct"},"transform":[{"filter":"datum.p==42"}],"mark":{"type":"text","fill":"#1818d4"},"encoding":{"x":{"datum":4.15,"axis":null},"y":{"datum":-35.3,"axis":null},"text":{"field":"c"}}}
  ]},
  {"width":1,"height":212,"view":{"stroke":null},"data":{"name":"pct"},"transform":[{"filter":"datum.p==11"}],"mark":{"type":"text"},"encoding":{"text":{"value":""}}},
  {"width":212,"height":212,"title":"Bhatkal","resolve":{"axis":{"x":"independent","y":"independent"}},"layer":[
   {"data":{"name":"prof"},"transform":[{"filter":"datum.p==43"},{"fold":["a","b","c"],"as":["s","v"]}],"mark":{"type":"line","clip":true},"encoding":{"x":{"field":"v","type":"quantitative","scale":{"domain":[-5,5],"nice":false},"axis":{"values":[-5,-2.5,0,2.5,5],"title":null,"grid":true,"gridOpacity":{"condition":{"test":"datum.value==0","value":1},"value":0},"tickSize":{"condition":{"test":"datum.value%5==0","value":11},"value":7}}},"y":{"field":"d","type":"quantitative","scale":{"domain":[-90,-11.3],"nice":false,"zero":false},"axis":{"values":[-15,-20,-25,-30,-35,-40,-45,-50,-55,-60,-65,-70,-75,-80,-85],"labels":false,"title":null,"grid":true,"gridOpacity":{"condition":{"test":"datum.value%10==0","value":1},"value":0},"tickDash":{"condition":{"test":"datum.value%10==0","value":[20,0]},"value":[0,6,6,6]}}},"color":{"field":"s","type":"nominal"},"order":{"field":"d","type":"quantitative","sort":"descending"}}},
   {"data":{"name":"pct"},"transform":[{"filter":"datum.p==43"}],"mark":{"type":"text","fill":"#000000"},"encoding":{"x":{"datum":4.15,"axis":{"orient":"top","values":[-5,-2.5,0,2.5,5],"title":null,"tickSize":{"condition":{"test":"datum.value%5==0","value":11},"value":7}}},"y":{"datum":-15.3,"axis":{"orient":"right","values":[-15,-20,-25,-30,-35,-40,-45,-50,-55,-60,-65,-70,-75,-80,-85],"title":null,"tickDash":{"condition":{"test":"datum.value%10==0","value":[20,0]},"value":[0,6,6,6]}}},"text":{"field":"a"}}},
   {"data":{"name":"pct"},"transform":[{"filter":"datum.p==43"}],"mark":{"type":"text","fill":"#e8141c"},"encoding":{"x":{"datum":4.15,"axis":null},"y":{"datum":-25.2,"axis":null},"text":{"field":"b"}}},
   {"data":{"name":"pct"},"transform":[{"filter":"datum.p==43"}],"mark":{"type":"text","fill":"#1818d4"},"encoding":{"x":{"datum":4.15,"axis":null},"y":{"datum":-35.3,"axis":null},"text":{"field":"c"}}}
  ]},
  {"width":212,"height":212,"resolve":{"axis":{"x":"independent","y":"independent"}},"layer":[
   {"data":{"name":"prof"},"transform":[{"filter":"datum.p==44"},{"fold":["a","b","c"],"as":["s","v"]}],"mark":{"type":"line","clip":true},"encoding":{"x":{"field":"v","type":"quantitative","scale":{"domain":[-5,5],"nice":false},"axis":{"values":[-5,-2.5,0,2.5,5],"title":null,"grid":true,"gridOpacity":{"condition":{"test":"datum.value==0","value":1},"value":0},"tickSize":{"condition":{"test":"datum.value%5==0","value":11},"value":7}}},"y":{"field":"d","type":"quantitative","scale":{"domain":[-90,-11.3],"nice":false,"zero":false},"axis":{"values":[-15,-20,-25,-30,-35,-40,-45,-50,-55,-60,-65,-70,-75,-80,-85],"labels":false,"title":null,"grid":true,"gridOpacity":{"condition":{"test":"datum.value%10==0","value":1},"value":0},"tickDash":{"condition":{"test":"datum.value%10==0","value":[20,0]},"value":[0,6,6,6]}}},"color":{"field":"s","type":"nominal"},"order":{"field":"d","type":"quantitative","sort":"descending"}}},
   {"data":{"name":"pct"},"transform":[{"filter":"datum.p==44"}],"mark":{"type":"text","fill":"#000000"},"encoding":{"x":{"datum":4.15,"axis":{"orient":"top","values":[-5,-2.5,0,2.5,5],"title":null,"tickSize":{"condition":{"test":"datum.value%5==0","value":11},"value":7}}},"y":{"datum":-15.3,"axis":{"orient":"right","values":[-15,-20,-25,-30,-35,-40,-45,-50,-55,-60,-65,-70,-75,-80,-85],"title":null,"tickDash":{"condition":{"test":"datum.value%10==0","value":[20,0]},"value":[0,6,6,6]}}},"text":{"field":"a"}}},
   {"data":{"name":"pct"},"transform":[{"filter":"datum.p==44"}],"mark":{"type":"text","fill":"#e8141c"},"encoding":{"x":{"datum":4.15,"axis":null},"y":{"datum":-25.2,"axis":null},"text":{"field":"b"}}},
   {"data":{"name":"pct"},"transform":[{"filter":"datum.p==44"}],"mark":{"type":"text","fill":"#1818d4"},"encoding":{"x":{"datum":4.15,"axis":null},"y":{"datum":-35.3,"axis":null},"text":{"field":"c"}}}
  ]},
  {"width":212,"height":212,"title":"Kollam","resolve":{"axis":{"x":"independent","y":"independent"}},"layer":[
   {"data":{"name":"prof"},"transform":[{"filter":"datum.p==51"},{"fold":["a","b","c"],"as":["s","v"]}],"mark":{"type":"line","clip":true},"encoding":{"x":{"field":"v","type":"quantitative","scale":{"domain":[-5,5],"nice":false},"axis":{"values":[-5,-2.5,0,2.5,5],"title":"Velocity (cm s⁻¹)","grid":true,"gridOpacity":{"condition":{"test":"datum.value==0","value":1},"value":0},"tickSize":{"condition":{"test":"datum.value%5==0","value":11},"value":7}}},"y":{"field":"d","type":"quantitative","scale":{"domain":[-152,-5],"nice":false,"zero":false},"axis":{"values":[-10,-15,-20,-25,-30,-35,-40,-45,-50,-55,-60,-65,-70,-75,-80,-85,-90,-95,-100,-105,-110,-115,-120,-125,-130,-135,-140,-145,-150],"title":"Depth (m)","grid":true,"gridOpacity":{"condition":{"test":"datum.value%20==0","value":1},"value":0},"tickDash":{"condition":{"test":"datum.value%20==0","value":[20,0]},"value":[0,6,6,6]},"labelExpr":"datum.value%20==0?datum.label:''"}},"color":{"field":"s","type":"nominal"},"order":{"field":"d","type":"quantitative","sort":"descending"}}},
   {"data":{"name":"pct"},"transform":[{"filter":"datum.p==51"}],"mark":{"type":"text","fill":"#000000"},"encoding":{"x":{"datum":4.15,"axis":{"orient":"top","values":[-5,-2.5,0,2.5,5],"title":null,"tickSize":{"condition":{"test":"datum.value%5==0","value":11},"value":7}}},"y":{"datum":-15.3,"axis":{"orient":"right","values":[-10,-15,-20,-25,-30,-35,-40,-45,-50,-55,-60,-65,-70,-75,-80,-85,-90,-95,-100,-105,-110,-115,-120,-125,-130,-135,-140,-145,-150],"title":null,"tickDash":{"condition":{"test":"datum.value%20==0","value":[20,0]},"value":[0,6,6,6]}}},"text":{"field":"a"}}},
   {"data":{"name":"pct"},"transform":[{"filter":"datum.p==51"}],"mark":{"type":"text","fill":"#e8141c"},"encoding":{"x":{"datum":4.15,"axis":null},"y":{"datum":-32.7,"axis":null},"text":{"field":"b"}}},
   {"data":{"name":"pct"},"transform":[{"filter":"datum.p==51"}],"mark":{"type":"text","fill":"#1818d4"},"encoding":{"x":{"datum":4.15,"axis":null},"y":{"datum":-48.9,"axis":null},"text":{"field":"c"}}}
  ]},
  {"width":212,"height":212,"resolve":{"axis":{"x":"independent","y":"independent"}},"layer":[
   {"data":{"name":"prof"},"transform":[{"filter":"datum.p==52"},{"fold":["a","b","c"],"as":["s","v"]}],"mark":{"type":"line","clip":true},"encoding":{"x":{"field":"v","type":"quantitative","scale":{"domain":[-5,5],"nice":false},"axis":{"values":[-5,-2.5,0,2.5,5],"title":"Velocity (cm s⁻¹)","grid":true,"gridOpacity":{"condition":{"test":"datum.value==0","value":1},"value":0},"tickSize":{"condition":{"test":"datum.value%5==0","value":11},"value":7}}},"y":{"field":"d","type":"quantitative","scale":{"domain":[-152,-5],"nice":false,"zero":false},"axis":{"values":[-10,-15,-20,-25,-30,-35,-40,-45,-50,-55,-60,-65,-70,-75,-80,-85,-90,-95,-100,-105,-110,-115,-120,-125,-130,-135,-140,-145,-150],"labels":false,"title":null,"grid":true,"gridOpacity":{"condition":{"test":"datum.value%20==0","value":1},"value":0},"tickDash":{"condition":{"test":"datum.value%20==0","value":[20,0]},"value":[0,6,6,6]}}},"color":{"field":"s","type":"nominal"},"order":{"field":"d","type":"quantitative","sort":"descending"}}},
   {"data":{"name":"pct"},"transform":[{"filter":"datum.p==52"}],"mark":{"type":"text","fill":"#000000"},"encoding":{"x":{"datum":4.15,"axis":{"orient":"top","values":[-5,-2.5,0,2.5,5],"title":null,"tickSize":{"condition":{"test":"datum.value%5==0","value":11},"value":7}}},"y":{"datum":-15.3,"axis":{"orient":"right","values":[-10,-15,-20,-25,-30,-35,-40,-45,-50,-55,-60,-65,-70,-75,-80,-85,-90,-95,-100,-105,-110,-115,-120,-125,-130,-135,-140,-145,-150],"title":null,"tickDash":{"condition":{"test":"datum.value%20==0","value":[20,0]},"value":[0,6,6,6]}}},"text":{"field":"a"}}},
   {"data":{"name":"pct"},"transform":[{"filter":"datum.p==52"}],"mark":{"type":"text","fill":"#e8141c"},"encoding":{"x":{"datum":4.15,"axis":null},"y":{"datum":-32.7,"axis":null},"text":{"field":"b"}}},
   {"data":{"name":"pct"},"transform":[{"filter":"datum.p==52"}],"mark":{"type":"text","fill":"#1818d4"},"encoding":{"x":{"datum":4.15,"axis":null},"y":{"datum":-48.9,"axis":null},"text":{"field":"c"}}}
  ]},
  {"width":1,"height":212,"view":{"stroke":null},"data":{"name":"pct"},"transform":[{"filter":"datum.p==11"}],"mark":{"type":"text"},"encoding":{"text":{"value":""}}},
  {"width":212,"height":212,"title":"Kollam","resolve":{"axis":{"x":"independent","y":"independent"}},"layer":[
   {"data":{"name":"prof"},"transform":[{"filter":"datum.p==53"},{"fold":["a","b","c"],"as":["s","v"]}],"mark":{"type":"line","clip":true},"encoding":{"x":{"field":"v","type":"quantitative","scale":{"domain":[-5,5],"nice":false},"axis":{"values":[-5,-2.5,0,2.5,5],"title":"Velocity (cm s⁻¹)","grid":true,"gridOpacity":{"condition":{"test":"datum.value==0","value":1},"value":0},"tickSize":{"condition":{"test":"datum.value%5==0","value":11},"value":7}}},"y":{"field":"d","type":"quantitative","scale":{"domain":[-152,-5],"nice":false,"zero":false},"axis":{"values":[-10,-15,-20,-25,-30,-35,-40,-45,-50,-55,-60,-65,-70,-75,-80,-85,-90,-95,-100,-105,-110,-115,-120,-125,-130,-135,-140,-145,-150],"labels":false,"title":null,"grid":true,"gridOpacity":{"condition":{"test":"datum.value%20==0","value":1},"value":0},"tickDash":{"condition":{"test":"datum.value%20==0","value":[20,0]},"value":[0,6,6,6]}}},"color":{"field":"s","type":"nominal"},"order":{"field":"d","type":"quantitative","sort":"descending"}}},
   {"data":{"name":"pct"},"transform":[{"filter":"datum.p==53"}],"mark":{"type":"text","fill":"#000000"},"encoding":{"x":{"datum":4.15,"axis":{"orient":"top","values":[-5,-2.5,0,2.5,5],"title":null,"tickSize":{"condition":{"test":"datum.value%5==0","value":11},"value":7}}},"y":{"datum":-15.3,"axis":{"orient":"right","values":[-10,-15,-20,-25,-30,-35,-40,-45,-50,-55,-60,-65,-70,-75,-80,-85,-90,-95,-100,-105,-110,-115,-120,-125,-130,-135,-140,-145,-150],"title":null,"tickDash":{"condition":{"test":"datum.value%20==0","value":[20,0]},"value":[0,6,6,6]}}},"text":{"field":"a"}}},
   {"data":{"name":"pct"},"transform":[{"filter":"datum.p==53"}],"mark":{"type":"text","fill":"#e8141c"},"encoding":{"x":{"datum":4.15,"axis":null},"y":{"datum":-32.7,"axis":null},"text":{"field":"b"}}},
   {"data":{"name":"pct"},"transform":[{"filter":"datum.p==53"}],"mark":{"type":"text","fill":"#1818d4"},"encoding":{"x":{"datum":4.15,"axis":null},"y":{"datum":-48.9,"axis":null},"text":{"field":"c"}}}
  ]},
  {"width":212,"height":212,"resolve":{"axis":{"x":"independent","y":"independent"}},"layer":[
   {"data":{"name":"prof"},"transform":[{"filter":"datum.p==54"},{"fold":["a","b","c"],"as":["s","v"]}],"mark":{"type":"line","clip":true},"encoding":{"x":{"field":"v","type":"quantitative","scale":{"domain":[-5,5],"nice":false},"axis":{"values":[-5,-2.5,0,2.5,5],"title":"Velocity (cm s⁻¹)","grid":true,"gridOpacity":{"condition":{"test":"datum.value==0","value":1},"value":0},"tickSize":{"condition":{"test":"datum.value%5==0","value":11},"value":7}}},"y":{"field":"d","type":"quantitative","scale":{"domain":[-152,-5],"nice":false,"zero":false},"axis":{"values":[-10,-15,-20,-25,-30,-35,-40,-45,-50,-55,-60,-65,-70,-75,-80,-85,-90,-95,-100,-105,-110,-115,-120,-125,-130,-135,-140,-145,-150],"labels":false,"title":null,"grid":true,"gridOpacity":{"condition":{"test":"datum.value%20==0","value":1},"value":0},"tickDash":{"condition":{"test":"datum.value%20==0","value":[20,0]},"value":[0,6,6,6]}}},"color":{"field":"s","type":"nominal"},"order":{"field":"d","type":"quantitative","sort":"descending"}}},
   {"data":{"name":"pct"},"transform":[{"filter":"datum.p==54"}],"mark":{"type":"text","fill":"#000000"},"encoding":{"x":{"datum":4.15,"axis":{"orient":"top","values":[-5,-2.5,0,2.5,5],"title":null,"tickSize":{"condition":{"test":"datum.value%5==0","value":11},"value":7}}},"y":{"datum":-15.3,"axis":{"orient":"right","values":[-10,-15,-20,-25,-30,-35,-40,-45,-50,-55,-60,-65,-70,-75,-80,-85,-90,-95,-100,-105,-110,-115,-120,-125,-130,-135,-140,-145,-150],"title":null,"tickDash":{"condition":{"test":"datum.value%20==0","value":[20,0]},"value":[0,6,6,6]}}},"text":{"field":"a"}}},
   {"data":{"name":"pct"},"transform":[{"filter":"datum.p==54"}],"mark":{"type":"text","fill":"#e8141c"},"encoding":{"x":{"datum":4.15,"axis":null},"y":{"datum":-32.7,"axis":null},"text":{"field":"b"}}},
   {"data":{"name":"pct"},"transform":[{"filter":"datum.p==54"}],"mark":{"type":"text","fill":"#1818d4"},"encoding":{"x":{"datum":4.15,"axis":null},"y":{"datum":-48.9,"axis":null},"text":{"field":"c"}}}
  ]}
]
}
